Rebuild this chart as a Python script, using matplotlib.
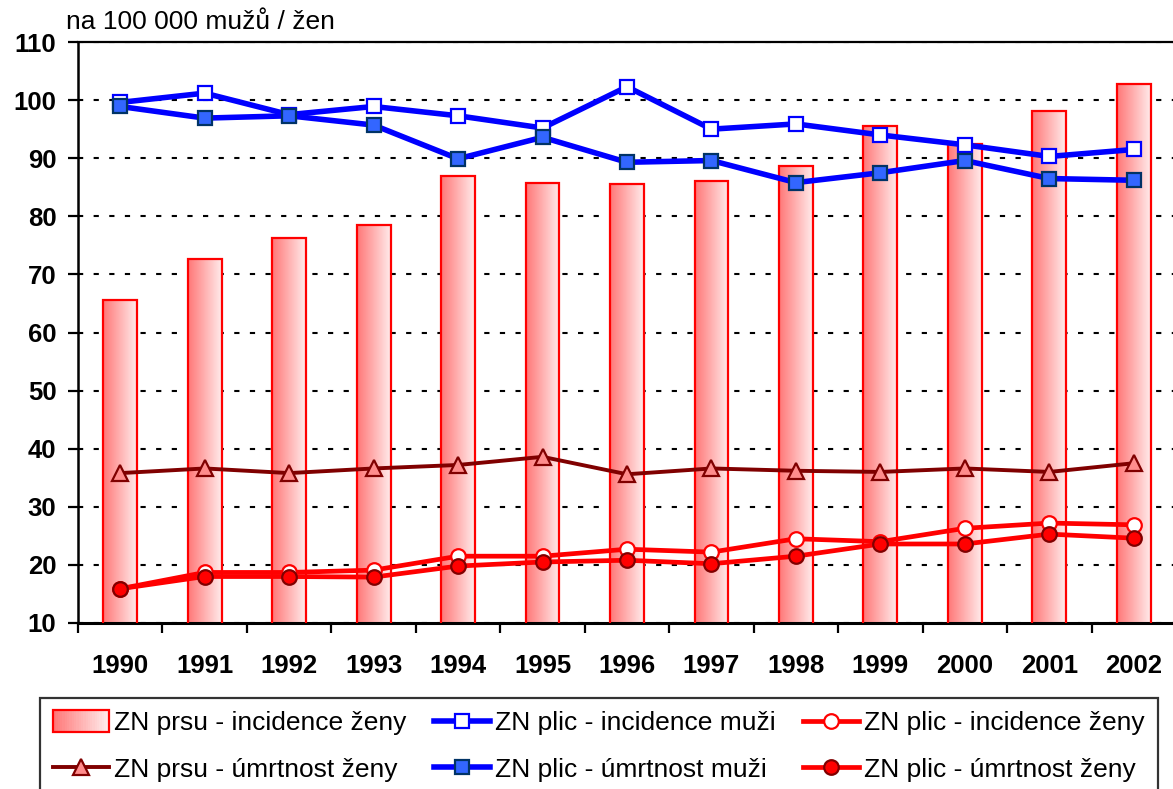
import numpy as np
import matplotlib
matplotlib.use("Agg")
import matplotlib.pyplot as plt
from matplotlib.colors import LinearSegmentedColormap
from matplotlib.patches import Rectangle
from matplotlib.legend_handler import HandlerBase

years = ["1990", "1991", "1992", "1993", "1994", "1995", "1996",
         "1997", "1998", "1999", "2000", "2001", "2002"]
prsu_inc = [65.6, 72.6, 76.3, 78.5, 86.9, 85.7, 85.6, 86.0, 88.7, 95.5, 92.4, 98.2, 102.7]
plic_inc_m = [99.6, 101.2, 97.5, 98.9, 97.3, 95.2, 102.3, 95.0, 95.9, 94.0, 92.3, 90.3, 91.5]
prsu_umr = [35.8, 36.6, 35.8, 36.6, 37.2, 38.6, 35.6, 36.6, 36.2, 36.0, 36.6, 36.0, 37.5]
plic_umr_m = [98.9, 96.9, 97.3, 95.7, 89.9, 93.6, 89.3, 89.6, 85.8, 87.5, 89.6, 86.5, 86.2]
plic_inc_z = [15.9, 18.7, 18.7, 19.1, 21.5, 21.5, 22.7, 22.2, 24.5, 24.0, 26.3, 27.2, 26.9]
plic_umr_z = [15.9, 18.0, 18.0, 17.9, 19.8, 20.5, 20.8, 20.2, 21.5, 23.6, 23.6, 25.3, 24.6]

labels = ["ZN prsu - incidence ženy", "ZN prsu - úmrtnost ženy",
          "ZN plic - incidence muži", "ZN plic - úmrtnost muži",
          "ZN plic - incidence ženy", "ZN plic - úmrtnost ženy"]

plt.rcParams['font.family'] = ['Liberation Sans', 'DejaVu Sans']

W, H = 1173, 789
fig = plt.figure(figsize=(W / 100, H / 100), dpi=100)
ax = fig.add_axes([78 / W, 1 - 623 / H, 1098 / W, 581 / H])

x = np.arange(len(years))
grad_cmap = LinearSegmentedColormap.from_list("g", [(1, 0.47, 0.47), (1, 0.92, 0.92)])
grad = np.linspace(0, 1, 64).reshape(1, -1)

bars = ax.bar(x, prsu_inc, width=0.4, facecolor='none', edgecolor='#FF0000',
              linewidth=1.6, zorder=3)
for b in bars:
    bx, by = b.get_x(), b.get_y()
    ax.imshow(grad, cmap=grad_cmap, extent=[bx, bx + b.get_width(), by, by + b.get_height()],
              aspect='auto', zorder=2, interpolation='bilinear')

l_umr, = ax.plot(x, prsu_umr, color='#800000', lw=2.8, marker='^', ms=11.5,
                 mfc='#FF8C8C', mec='#800000', mew=1.6, zorder=5)
l_inc_m, = ax.plot(x, plic_inc_m, color='#0000FF', lw=4.0, marker='s', ms=10.5,
                   mfc='white', mec='#0000FF', mew=1.6, zorder=6)
l_umr_m, = ax.plot(x, plic_umr_m, color='#0000FF', lw=4.0, marker='s', ms=10.5,
                   mfc='#3366FF', mec='#003366', mew=1.6, zorder=7)
l_inc_z, = ax.plot(x, plic_inc_z, color='#FF0000', lw=3.4, marker='o', ms=10.5,
                   mfc='white', mec='#FF0000', mew=1.6, zorder=6)
l_umr_z, = ax.plot(x, plic_umr_z, color='#FF0000', lw=3.4, marker='o', ms=10.5,
                   mfc='#FF0000', mec='#800000', mew=1.6, zorder=7)

ax.set_xlim(-0.5, len(years) - 0.5)
ax.set_ylim(10, 110)
ax.set_yticks(range(10, 111, 10))
ax.set_xticks(x)
ax.set_xticklabels(years)
ax.set_xticks(np.arange(-0.5, len(years)), minor=True)
ax.tick_params(axis='x', which='major', length=0, pad=22)
ax.tick_params(axis='x', which='minor', length=7.5, width=1.6, direction='out')
ax.tick_params(axis='y', length=7.5, width=1.6, direction='out', pad=8)
for lab in ax.get_xticklabels() + ax.get_yticklabels():
    lab.set_fontsize(18.5)
    lab.set_fontweight('bold')

ax.set_axisbelow(True)
ax.yaxis.grid(True, linestyle=(0, (2.5, 5)), color='black', lw=1.5)
ax.spines['right'].set_visible(False)
ax.spines['left'].set_linewidth(1.8)
ax.spines['bottom'].set_linewidth(2.2)
ax.spines['top'].set_linewidth(1.6)


class GradHandler(HandlerBase):
    def create_artists(self, legend, orig, xd, yd, w, h, fs, trans):
        arts = []
        n = 24
        hh = h * 1.2
        y0 = yd - (hh - h) / 2
        for i in range(n):
            c = grad_cmap(i / (n - 1))
            arts.append(Rectangle((xd + w * i / n, y0), w / n + 0.3, hh, facecolor=c,
                                  edgecolor='none', transform=trans))
        arts.append(Rectangle((xd, y0), w, hh, facecolor='none', edgecolor='#FF0000',
                              lw=1.6, transform=trans))
        return arts


handles = [bars, l_umr, l_inc_m, l_umr_m, l_inc_z, l_umr_z]
leg = fig.legend(handles, labels, ncol=3, loc='upper left', mode='expand',
                 bbox_to_anchor=(40 / W, 0, 1118 / W, 1 - 698 / H),
                 borderaxespad=0, fontsize=19, handlelength=2.1, handletextpad=0.2,
                 labelspacing=0.85, borderpad=0.5, fancybox=False, frameon=True,
                 handler_map={type(bars): GradHandler()})
leg.get_frame().set_edgecolor('black')
leg.get_frame().set_linewidth(1.6)

fig.text(66 / W, 1 - 22 / H, "na 100 000 mužů / žen", fontsize=19, va='center', ha='left')

fig.savefig("out.png", dpi=100)
